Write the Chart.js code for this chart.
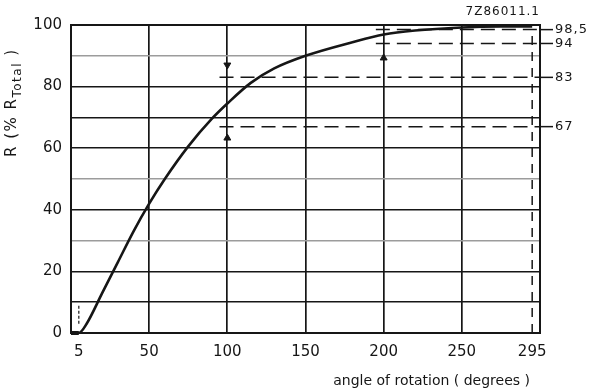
<!DOCTYPE html>
<html>
<head>
<meta charset="utf-8">
<script src="https://cdn.jsdelivr.net/npm/chart.js@4.4.1/dist/chart.umd.min.js"></script>
<style>
  html, body { margin: 0; padding: 0; background: #fff; }
  #wrap { width: 589px; height: 390px; }
</style>
</head>
<body>
<div id="wrap"><canvas id="rotChart" width="589" height="390"></canvas></div>
<script>
// R (% of total) against angle of rotation
var angle = [0, 5, 10, 20, 30, 40, 50, 60, 75, 90, 100, 115, 130, 150, 180, 200, 220, 250, 275, 295];
var rPct  = [0, 0, 3, 13, 23, 33, 42, 50, 60.6, 69.5, 74.5, 81.2, 85.9, 90, 94.4, 96.9, 98.2, 99.2, 99.5, 99.5];

var xTicks = [5, 50, 100, 150, 200, 250, 295];
var yTicks = [0, 20, 40, 60, 80, 100];

// marked levels: dashed line from levelStart to the right edge
var levelStart  = [195, 195, 95, 95];
var levelY      = [98.5, 94, 83, 67];
var levelLabels = ['98,5', '94', '83', '67'];

// arrows pointing at the marked levels
var arrowX   = [100, 100, 200, 200];
var arrowY   = [87, 63.3, 102.3, 89.3];
var arrowRot = [180, 0, 180, 0];

var endAngle = 295;   // end of rotation
var endR = 98.5;
var startAngle = 5;

var figCode = '7Z86011.1';
var xTitle = 'angle of rotation ( degrees )';

var INK = '#161616';
var FONT = '"DejaVu Sans", "Liberation Sans", sans-serif';

var datasets = [];

datasets.push({
  data: angle.map(function (a, i) { return { x: a, y: rPct[i] }; }),
  borderColor: INK,
  borderWidth: 2.6,
  cubicInterpolationMode: 'monotone',
  pointRadius: 0
});

// dead travel before the start angle, drawn heavy along the axis
datasets.push({
  data: [{ x: 0, y: 0 }, { x: startAngle, y: 0 }],
  borderColor: INK,
  borderWidth: 4,
  pointRadius: 0,
  clip: false
});

levelY.forEach(function (v, i) {
  datasets.push({
    data: [{ x: levelStart[i], y: v }, { x: 300, y: v }],
    borderColor: INK,
    borderWidth: 1.5,
    borderDash: [14, 7],
    pointRadius: 0
  });
});

datasets.push({
  data: [{ x: endAngle, y: 0 }, { x: endAngle, y: endR }],
  borderColor: INK,
  borderWidth: 1.5,
  borderDash: [9, 7],
  pointRadius: 0
});

datasets.push({
  data: [{ x: startAngle, y: 3 }, { x: startAngle, y: 9 }],
  borderColor: INK,
  borderWidth: 1.2,
  borderDash: [3, 2],
  pointRadius: 0
});

datasets.push({
  type: 'scatter',
  data: arrowX.map(function (a, i) { return { x: a, y: arrowY[i] }; }),
  pointStyle: 'triangle',
  pointRadius: 4,
  rotation: arrowRot,
  backgroundColor: INK,
  borderColor: INK,
  borderWidth: 1,
  clip: false
});

// frame, level labels, axis titles
var extras = {
  id: 'extras',
  beforeDatasetsDraw: function (chart) {
    var ctx = chart.ctx;
    var area = chart.chartArea;
    ctx.save();
    ctx.strokeStyle = INK;
    ctx.lineWidth = 2;
    ctx.strokeRect(area.left, area.top, area.right - area.left, area.bottom - area.top);
    ctx.restore();
  },
  afterDraw: function (chart) {
    var ctx = chart.ctx;
    var area = chart.chartArea;
    var ys = chart.scales.y;
    ctx.save();
    ctx.strokeStyle = INK;
    ctx.fillStyle = INK;
    ctx.lineWidth = 1.5;
    ctx.font = '13px ' + FONT;
    ctx.letterSpacing = '1px';
    ctx.textBaseline = 'middle';
    ctx.textAlign = 'left';
    levelY.forEach(function (v, i) {
      var py = ys.getPixelForValue(v);
      ctx.beginPath();
      ctx.moveTo(area.right, py);
      ctx.lineTo(area.right + 13, py);
      ctx.stroke();
      ctx.fillText(levelLabels[i], area.right + 15, py);
    });

    ctx.font = '12px ' + FONT;
    ctx.textAlign = 'right';
    ctx.fillText(figCode, area.right, 12);

    ctx.font = '14px ' + FONT;
    ctx.letterSpacing = '0px';
    ctx.fillText(xTitle, 530, 381);

    // rotated y title with subscript
    ctx.translate(12, 157);
    ctx.rotate(-Math.PI / 2);
    ctx.textAlign = 'left';
    ctx.letterSpacing = '1.5px';
    ctx.font = '15px ' + FONT;
    var s1 = 'R (% R';
    ctx.fillText(s1, 0, 0);
    var w1 = ctx.measureText(s1).width;
    ctx.font = '12px ' + FONT;
    ctx.fillText('Total', w1, 6);
    var w2 = ctx.measureText('Total').width;
    ctx.font = '15px ' + FONT;
    ctx.fillText(' )', w1 + w2, 0);
    ctx.restore();
  }
};

var majorY = { 0: 1, 10: 1, 20: 1, 40: 1, 60: 1, 70: 1, 80: 1, 100: 1 };

var ctx = document.getElementById('rotChart').getContext('2d');
var rotChart = new Chart(ctx, {
  type: 'line',
  data: { datasets: datasets },
  plugins: [extras],
  options: {
    responsive: false,
    animation: false,
    layout: { padding: { top: 25, right: 49, left: 0, bottom: 0 } },
    plugins: { legend: { display: false }, tooltip: { enabled: false } },
    scales: {
      x: {
        type: 'linear',
        min: 0,
        max: 300,
        afterBuildTicks: function (scale) {
          scale.ticks = xTicks.map(function (v) { return { value: v }; });
        },
        afterFit: function (scale) { scale.height = 57; },
        ticks: {
          color: INK,
          padding: 10,
          maxRotation: 0,
          autoSkip: false,
          font: { family: FONT, size: 15 },
          callback: function (v) { return String(v); }
        },
        grid: {
          drawTicks: false,
          lineWidth: 1.7,
          color: function (c) {
            var v = c.tick ? c.tick.value : 0;
            return (v === startAngle || v === endAngle) ? 'rgba(0,0,0,0)' : INK;
          }
        },
        border: { display: false }
      },
      y: {
        min: 0,
        max: 100,
        afterBuildTicks: function (scale) {
          var t = [];
          for (var v = 0; v <= 100; v += 10) t.push({ value: v });
          scale.ticks = t;
        },
        afterFit: function (scale) { scale.width = 71; },
        ticks: {
          color: INK,
          padding: 9,
          autoSkip: false,
          font: { family: FONT, size: 15 },
          callback: function (v) { return yTicks.indexOf(v) >= 0 ? String(v) : ''; }
        },
        grid: {
          drawTicks: false,
          lineWidth: 1.6,
          color: function (c) {
            var v = c.tick ? c.tick.value : 0;
            return majorY[v] ? INK : '#9c9c9c';
          }
        },
        border: { display: false }
      }
    }
  }
});
</script>
</body>
</html>
